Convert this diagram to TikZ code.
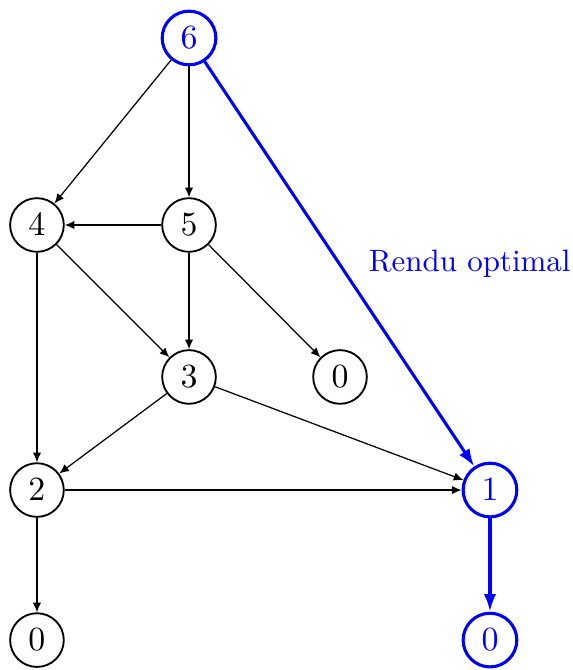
\documentclass[tikz,border=0pt]{standalone}
\usepackage{tikz}
\usepackage{xcolor}
\usetikzlibrary{arrows.meta, positioning}

\begin{document}
\begin{tikzpicture}[>={Latex[length=1.1mm,width=0.95mm]}, on grid, state/.style={circle, draw, semithick, inner sep=0pt, minimum size=0.61cm, font=\fontsize{11}{13}\selectfont}, best/.style={draw=blue, text=blue, line width=1pt}]

            \useasboundingbox (0,0) rectangle (6.511,7.614);

            \node[state, best] (N6) at (2.148,7.182) {$6$};
            \node[state, below left=2.125cm and 1.728cm of N6] (N4) {$4$};
            \node[state, below=2.125cm of N6] (N5) {$5$};
            \node[state, below=1.727cm of N5] (N3) {$3$};
            \node[state, right=1.716cm of N3] (Z3) {$0$};
            \node[state, below=3.012cm of N4] (N2) {$2$};
            \node[state, best, right=5.148cm of N2] (N1) {$1$};
            \node[state, below=1.705cm of N2] (Z2) {$0$};
            \node[state, best, below=1.705cm of N1] (Z1) {$0$};



            \path[->]
            (N6) edge (N4)
            (N6) edge (N5)
            (N5) edge (N4)
            (N5) edge (N3)
            (N5) edge (Z3)
            (N4) edge (N3)
            (N4) edge (N2)
            (N3) edge (N2)
            (N3) edge (N1)
            (N2) edge (N1)
            (N2) edge (Z2)
            ;

            \path[-{Latex[length=2mm,width=1.4mm]}, blue, line width=1pt]
            (N6) edge node[midway, right=0.2cm, text=blue] {Rendu optimal} (N1)
            (N1) edge (Z1)
            ;

        \end{tikzpicture}
\end{document}
